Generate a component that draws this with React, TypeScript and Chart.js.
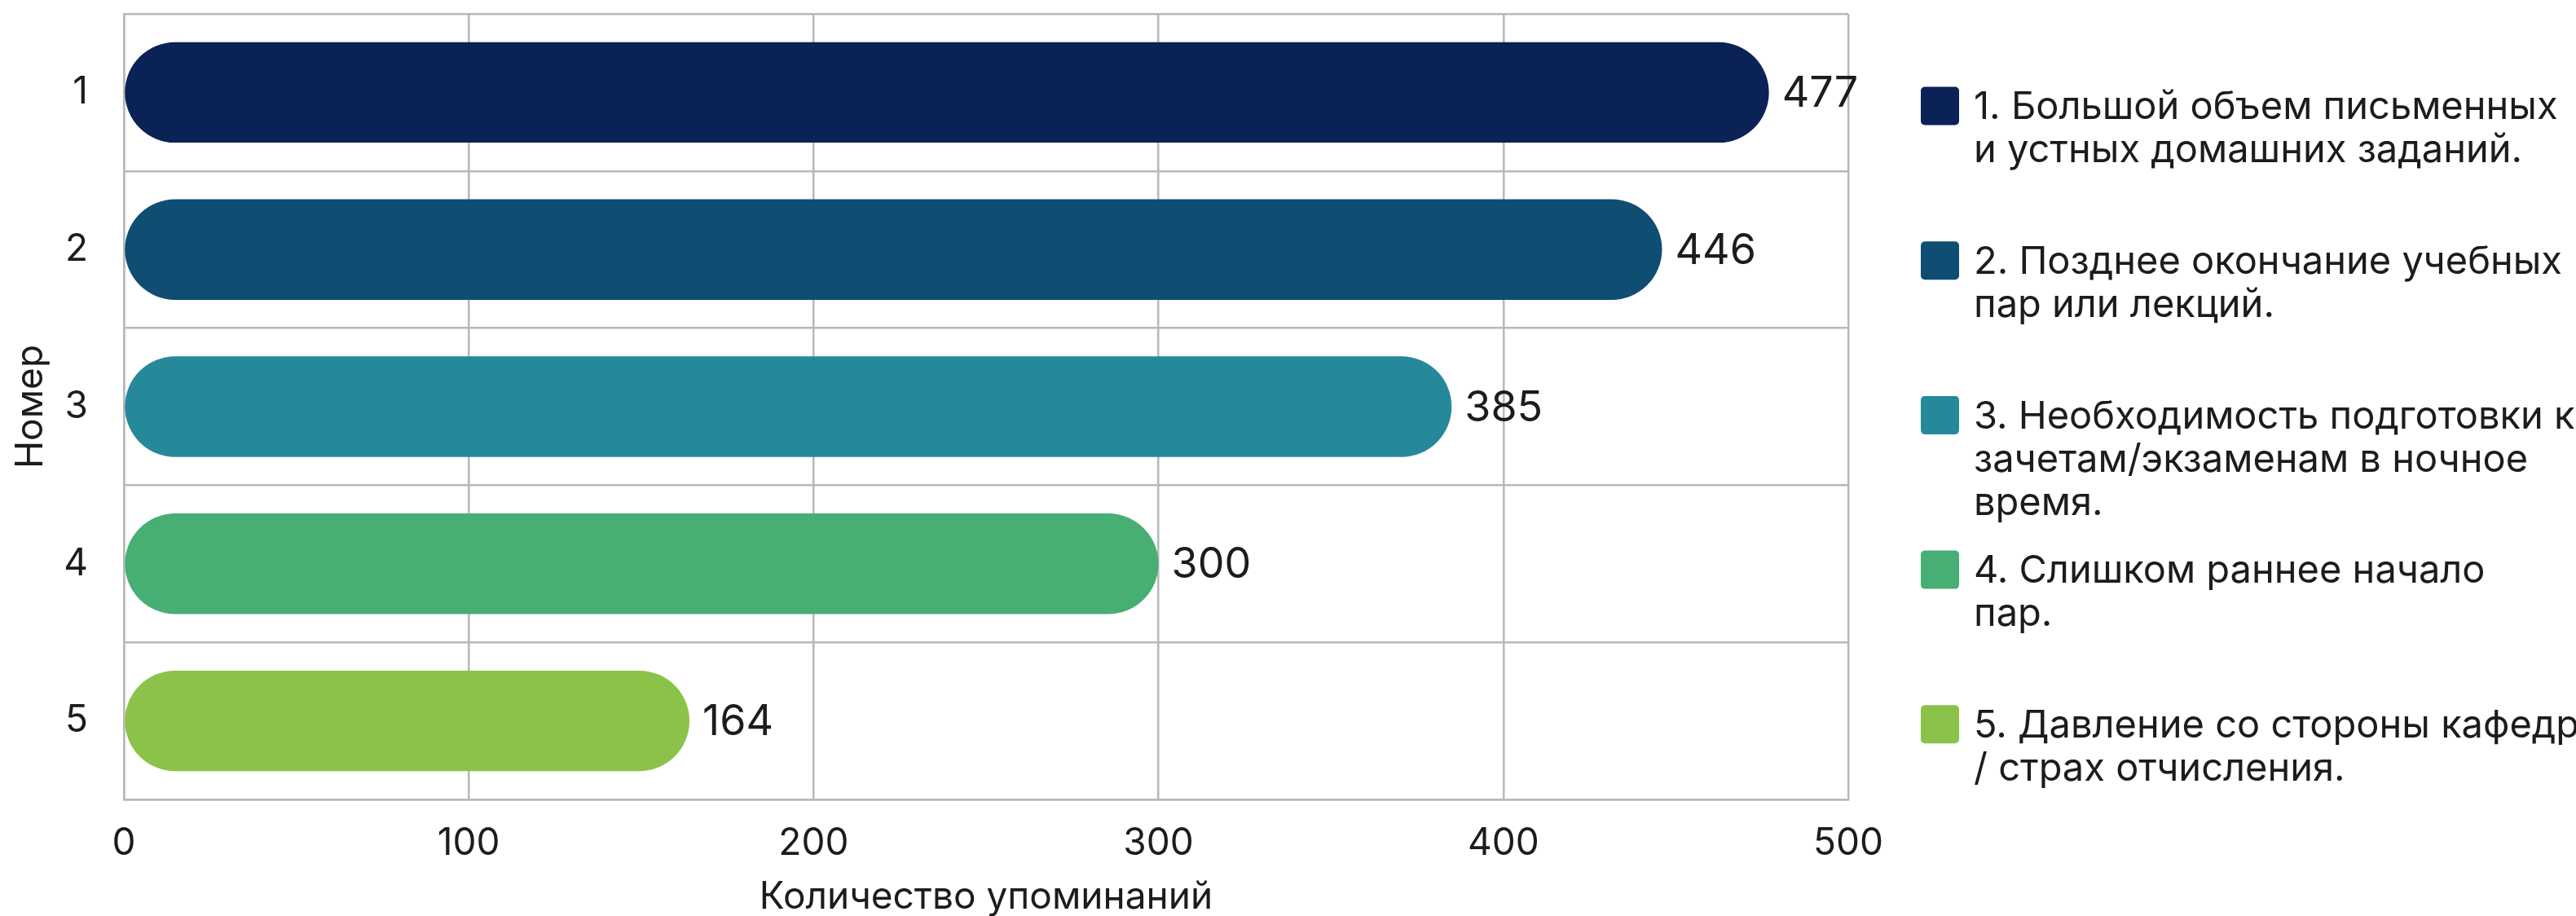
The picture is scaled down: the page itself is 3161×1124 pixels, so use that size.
import React, { useEffect, useRef } from "react";
import { Chart, registerables } from "chart.js";

Chart.register(...registerables);

const categories = ["1", "2", "3", "4", "5"];
const mentions = [477, 446, 385, 300, 164];
const barColors = ["#0b2257", "#0f4d72", "#25899a", "#47ae74", "#8bc34a"];
const legendLabels = [
  ["1. Большой объем письменных", "и устных домашних заданий."],
  ["2. Позднее окончание учебных", "пар или лекций."],
  ["3. Необходимость подготовки к", "зачетам/экзаменам в ночное", "время."],
  ["4. Слишком раннее начало", "пар."],
  ["5. Давление со стороны кафедр", "/ страх отчисления."],
];
const xTitle = "Количество упоминаний";
const yTitle = "Номер";
const xMin = 0;
const xMax = 500;
const xStep = 100;

const FONT = "Inter, 'Noto Sans', sans-serif";
const TEXT = "#1c1c1c";
const GRID = "#b8b8b8";

const valueLabelPlugin = {
  id: "valueLabels",
  afterDatasetsDraw(chart: any) {
    const ctx = chart.ctx;
    const meta = chart.getDatasetMeta(0);
    ctx.save();
    ctx.font = `52px ${FONT}`;
    ctx.fillStyle = TEXT;
    ctx.textAlign = "left";
    ctx.textBaseline = "middle";
    meta.data.forEach((bar: any, i: number) => {
      ctx.fillText(String(mentions[i]), bar.x + 16, bar.y + 2);
    });
    ctx.restore();
  },
};

const legendPlugin = {
  id: "sideLegend",
  afterDraw(chart: any) {
    const ctx = chart.ctx;
    const boxX = 2357;
    const box = 47;
    const firstCenter = 130;
    const gap = 189.7;
    const textX = 2422;
    const lineGap = 53;
    ctx.save();
    ctx.font = `47px ${FONT}`;
    ctx.textAlign = "left";
    ctx.textBaseline = "middle";
    legendLabels.forEach((lines, i) => {
      const cy = firstCenter + i * gap;
      ctx.fillStyle = barColors[i];
      ctx.beginPath();
      (ctx as any).roundRect(boxX, cy - box / 2, box, box, 5);
      ctx.fill();
      ctx.fillStyle = TEXT;
      lines.forEach((line, j) => {
        ctx.fillText(line, textX, cy + 2 + j * lineGap);
      });
    });
    ctx.restore();
  },
};

export default function App() {
  const ref = useRef<HTMLCanvasElement | null>(null);

  useEffect(() => {
    if (!ref.current) return;
    const chart = new Chart(ref.current, {
      type: "bar",
      data: {
        labels: categories,
        datasets: [
          {
            data: mentions,
            backgroundColor: barColors,
            borderRadius: 400,
            borderSkipped: false,
            barPercentage: 0.64,
            categoryPercentage: 1,
          },
        ],
      },
      options: {
        indexAxis: "y",
        animation: false,
        responsive: false,
        devicePixelRatio: 1,
        layout: { autoPadding: false, padding: { top: 17, right: 893, left: 0, bottom: 0 } },
        plugins: { legend: { display: false }, tooltip: { enabled: false }, title: { display: false } },
        scales: {
          x: {
            type: "linear",
            min: xMin,
            max: xMax,
            ticks: { stepSize: xStep, font: { size: 46, family: FONT }, color: TEXT, padding: 27 },
            grid: { color: GRID, lineWidth: 2.5, drawTicks: false },
            border: { color: GRID, width: 2.5 },
            title: {
              display: true,
              text: xTitle,
              color: TEXT,
              font: { size: 46, family: FONT, lineHeight: 1 },
              padding: { top: 0, bottom: 0 },
            },
            afterFit(scale: any) {
              scale.height = 143;
              scale.paddingLeft = 0;
              scale.paddingRight = 0;
              scale.paddingTop = 0;
              scale.paddingBottom = 0;
            },
          },
          y: {
            type: "category",
            ticks: { font: { size: 46, family: FONT }, color: TEXT, padding: 44 },
            grid: { color: GRID, lineWidth: 2.5, drawTicks: false, offset: true },
            border: { color: GRID, width: 2.5 },
            title: {
              display: true,
              text: yTitle,
              color: TEXT,
              font: { size: 46, family: FONT, lineHeight: 1 },
              padding: { top: 15, bottom: 0 },
            },
            afterFit(scale: any) {
              scale.width = 152;
              scale.paddingLeft = 0;
              scale.paddingRight = 0;
              scale.paddingTop = 0;
              scale.paddingBottom = 0;
            },
          },
        },
      } as any,
      plugins: [valueLabelPlugin, legendPlugin],
    });
    return () => chart.destroy();
  }, []);

  return (
    <div style={{ position: "fixed", left: 0, top: 0, width: 3161, height: 1124, background: "#fff" }}>
      <canvas ref={ref} width={3161} height={1124} style={{ width: 3161, height: 1124, display: "block" }} />
    </div>
  );
}
